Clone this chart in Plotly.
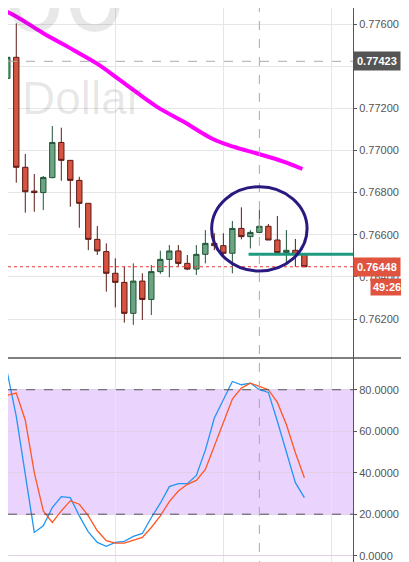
import plotly.graph_objects as go

idx = list(range(-1, 34))
opens  = [0.77315,0.77342,0.77442,0.76920,0.76807,0.76800,0.76871,0.77038,0.76953,0.76858,0.76749,0.76578,0.76520,0.76417,0.76374,0.76227,0.76380,0.76293,0.76425,0.76483,0.76523,0.76464,0.76437,0.76507,0.76559,0.76548,0.76512,0.76630,0.76591,0.76611,0.76640,0.76575,0.76515,0.76526,0.76507]
highs  = [0.77358,0.77458,0.77603,0.76983,0.76888,0.76879,0.77116,0.77108,0.76953,0.76875,0.76749,0.76641,0.76559,0.76488,0.76448,0.76464,0.76417,0.76456,0.76524,0.76551,0.76551,0.76504,0.76551,0.76622,0.76607,0.76607,0.76665,0.76730,0.76622,0.76717,0.76651,0.76689,0.76622,0.76580,0.76507]
lows   = [0.77290,0.77287,0.76847,0.76705,0.76709,0.76717,0.76868,0.76856,0.76733,0.76633,0.76527,0.76504,0.76330,0.76255,0.76183,0.76172,0.76195,0.76219,0.76414,0.76398,0.76448,0.76432,0.76409,0.76464,0.76527,0.76496,0.76417,0.76578,0.76535,0.76607,0.76575,0.76504,0.76464,0.76448,0.76448]
closes = [0.77342,0.77442,0.76920,0.76804,0.76800,0.76872,0.77038,0.76953,0.76858,0.76749,0.76578,0.76523,0.76417,0.76374,0.76227,0.76380,0.76293,0.76425,0.76483,0.76523,0.76464,0.76437,0.76507,0.76559,0.76548,0.76512,0.76630,0.76591,0.76611,0.76640,0.76575,0.76515,0.76526,0.76507,0.76448]

ma_x = [-0.81,1.04,4.0,7.33,9.93,12.52,16.59,19.56,22.89,25.11,27.93,30.67,32.78]
ma_y = [0.77674,0.77635,0.77556,0.77477,0.77413,0.77334,0.77208,0.77137,0.77053,0.77018,0.76983,0.76947,0.76912]

k_x = [-1,0,1] + list(range(3, 34))
k_y = [82.4,88.3,67.2,11.2,14.4,23.2,28.5,28,19.2,11.5,6.4,4.5,6.4,6.9,9.3,10.7,18.4,25.3,33.3,34.7,34.7,38.7,50.9,66.4,75.2,84,82.4,83.2,80,78.7,64.8,49.6,35.2,28]
d_x = list(range(-1, 34))
d_y = [69.6,77.3,78.4,65.3,40,21.6,16,21.6,26.4,24.8,19.2,12,7.2,6.1,6.1,7.5,8.8,13.6,19.2,26.1,31.2,34.4,36.3,41.6,52.8,64.8,75.5,80.8,83.2,81.6,80,73.9,63.2,49.6,37.6]

last_price = 0.76448
prev_mark = 0.77423
support = 0.76507
price_ticks = [0.762,0.764,0.766,0.768,0.770,0.772,0.774,0.776]
price_text = ["0.76200","0.76400","0.76600","0.76800","0.77000","0.77200","","0.77600"]
stoch_ticks = [0,20,40,60,80]

XR = [0.08, 38.4]
fig = go.Figure()
fig.add_trace(go.Candlestick(x=idx, open=opens, high=highs, low=lows, close=closes,
    increasing=dict(fillcolor="#6ba583", line=dict(color="#225437", width=1)),
    decreasing=dict(fillcolor="#d75442", line=dict(color="#5b1a13", width=1)),
    whiskerwidth=0, xaxis="x", yaxis="y", showlegend=False, hoverinfo="skip"))
fig.add_trace(go.Scatter(x=ma_x, y=ma_y, mode="lines", line=dict(color="#ff00ff", width=4, shape="spline"),
    xaxis="x", yaxis="y", showlegend=False))
fig.add_trace(go.Scatter(x=[26.8, 38.4], y=[support, support], mode="lines", line=dict(color="#1e9a80", width=3),
    xaxis="x", yaxis="y", showlegend=False))
fig.add_trace(go.Scatter(x=k_x, y=k_y, mode="lines", line=dict(color="#2196f3", width=1.3), xaxis="x2", yaxis="y2", showlegend=False))
fig.add_trace(go.Scatter(x=d_x, y=d_y, mode="lines", line=dict(color="#ff5722", width=1.3), xaxis="x2", yaxis="y2", showlegend=False))

split = 1 - 350/562
ax = dict(range=XR, showticklabels=False, showgrid=True, gridcolor="#e6e6e6",
          tickvals=[0,12,24,36], zeroline=False, fixedrange=True, automargin=False)
fig.update_layout(
    width=409, height=562, margin=dict(l=0, r=64, t=0, b=0, autoexpand=False),
    plot_bgcolor="white", paper_bgcolor="white", boxgap=0.15,
    font=dict(family="Liberation Sans, Arial", size=11, color="#555"),
    xaxis=dict(**ax, domain=[0,1], anchor="y", rangeslider=dict(visible=False)),
    xaxis2=dict(**ax, domain=[0,1], anchor="y2"),
    yaxis=dict(domain=[split,1], range=[0.76015,0.77676], side="right", tickvals=price_ticks,
               ticktext=price_text, gridcolor="#e6e6e6", showline=True, automargin=False,
               linecolor="#555", linewidth=1, ticks="outside", ticklen=3, tickcolor="#555", zeroline=False),
    yaxis2=dict(domain=[0,split], range=[-6.9,95.3], side="right", tickvals=stoch_ticks,
               ticktext=[f"{v:.4f}" for v in stoch_ticks], gridcolor="#e0d0e8", showline=True, automargin=False,
               linecolor="#555", linewidth=1, ticks="outside", ticklen=3, tickcolor="#555", zeroline=False),
)
shapes = [
    dict(type="rect", xref="x2 domain", yref="y2", x0=0, x1=1, y0=20, y1=80, fillcolor="rgba(205,150,250,0.42)", line=dict(width=0), layer="below"),
    dict(type="line", xref="x2 domain", yref="y2", x0=0, x1=1, y0=80, y1=80, line=dict(color="#555", width=1, dash="dash")),
    dict(type="line", xref="x2 domain", yref="y2", x0=0, x1=1, y0=20, y1=20, line=dict(color="#555", width=1, dash="dash")),
    dict(type="line", xref="paper", yref="paper", x0=0, x1=1.2, y0=split, y1=split, line=dict(color="#555", width=1.5)),
    dict(type="line", xref="x domain", yref="y", x0=0, x1=1, y0=prev_mark, y1=prev_mark, line=dict(color="#aaa", width=1, dash="dash")),
    dict(type="line", xref="x domain", yref="y", x0=0, x1=1, y0=last_price, y1=last_price, line=dict(color="#e53935", width=1, dash="dot")),
    dict(type="line", xref="x", yref="paper", x0=28, x1=28, y0=0, y1=1, line=dict(color="#aaa", width=1, dash="dash")),
    dict(type="circle", xref="x", yref="y", x0=22.7, x1=33.3, y0=0.76428, y1=0.76828, line=dict(color="#2a1a80", width=3)),
]
fig.update_layout(shapes=shapes)
fig.add_annotation(text="60", xref="paper", yref="paper", x=-0.02, y=1.14, xanchor="left", yanchor="top",
                   showarrow=False, font=dict(size=110, color="rgba(0,0,0,0.09)"))
fig.add_annotation(text="Dollar", xref="paper", yref="paper", x=0.035, y=0.89, xanchor="left", yanchor="top",
                   showarrow=False, font=dict(size=46, color="rgba(0,0,0,0.09)"))
fig.add_annotation(text="<b>0.77423</b>", xref="paper", yref="y", x=1.0, y=prev_mark, xanchor="left",
                   showarrow=False, bgcolor="#555", font=dict(color="white", size=11), borderpad=3)
fig.add_annotation(text="<b>0.76448</b>", xref="paper", yref="y", x=1.0, y=last_price, xanchor="left",
                   showarrow=False, bgcolor="#e0533f", font=dict(color="white", size=11), borderpad=3)
fig.add_annotation(text="<b>49:26</b>", xref="paper", yref="y", x=1.05, y=0.76395, xanchor="left", yanchor="top",
                   showarrow=False, bgcolor="#e0533f", font=dict(color="white", size=11), borderpad=2)
fig.write_html("out.html")
